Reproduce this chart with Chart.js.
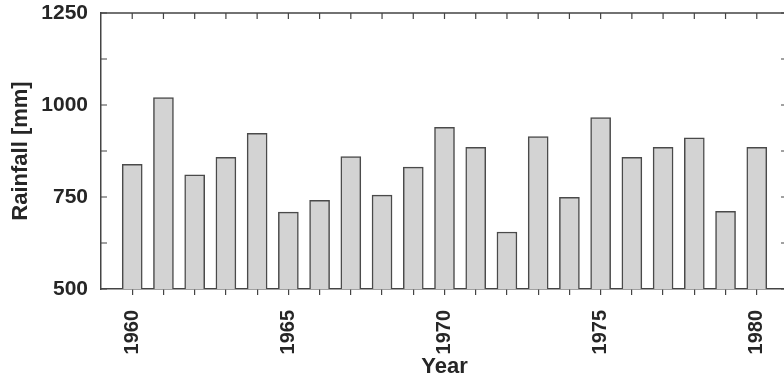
<!DOCTYPE html>
<html>
<head>
<meta charset="utf-8">
<title>Rainfall</title>
<script src="https://cdn.jsdelivr.net/npm/chart.js@4.4.1/dist/chart.umd.min.js"></script>
<style>
  html, body { margin: 0; padding: 0; background: #ffffff; overflow: hidden; }
  #rain-chart { display: block; }
</style>
</head>
<body>
<canvas id="rain-chart" width="800" height="382"></canvas>
<script>
// Years and annual rainfall (mm)
const years = [1960, 1961, 1962, 1963, 1964, 1965, 1966, 1967, 1968, 1969, 1970,
  1971, 1972, 1973, 1974, 1975, 1976, 1977, 1978, 1979, 1980];
const rainfall = [839, 1020, 810, 858, 923, 709, 741, 860, 755, 831, 939,
  885, 655, 914, 749, 966, 858, 885, 911, 711, 885];

// Axis ranges and labelled ticks
const yearMin = 1959;
const yearMax = 1981;
const yearLabels = [1960, 1965, 1970, 1975, 1980];
const rainMin = 500;
const rainMax = 1250;
const rainStep = 125;
const rainLabels = [500, 750, 1000, 1250];

const axisColor = "#444";
const textColor = "#262626";
const fontName = "'Liberation Sans', Arial, sans-serif";

// Inward ticks on left, right and top, plus the top and right frame lines
const frameTicks = {
  id: "frameTicks",
  afterDraw(chart) {
    const ctx = chart.ctx;
    const area = chart.chartArea;
    const x = chart.scales.x;
    const y = chart.scales.y;
    ctx.save();
    ctx.strokeStyle = axisColor;
    ctx.lineWidth = 1.5;
    ctx.beginPath();
    ctx.moveTo(area.left, area.top);
    ctx.lineTo(area.right, area.top);
    ctx.lineTo(area.right, area.bottom);
    ctx.stroke();

    ctx.lineWidth = 1.2;
    ctx.beginPath();
    y.ticks.forEach((t) => {
      const py = y.getPixelForValue(t.value);
      ctx.moveTo(area.left, py);
      ctx.lineTo(area.left + 6, py);
      ctx.moveTo(area.right, py);
      ctx.lineTo(area.right - 7, py);
    });
    years.forEach((yr) => {
      const px = x.getPixelForValue(yr);
      ctx.moveTo(px, area.top);
      ctx.lineTo(px, area.top + 6);
    });
    ctx.stroke();
    ctx.restore();
  },
};

const ctx = document.getElementById("rain-chart").getContext("2d");
const chart = new Chart(ctx, {
  type: "bar",
  data: {
    datasets: [
      {
        label: "Rainfall",
        data: years.map((yr, i) => ({ x: yr, y: rainfall[i] })),
        backgroundColor: "#d3d3d3",
        borderColor: "#4a4a4a",
        borderWidth: 1.5,
        barThickness: 20,
      },
    ],
  },
  options: {
    responsive: false,
    animation: false,
    layout: { padding: { top: 13, right: 12, left: 0, bottom: 0 } },
    plugins: {
      legend: { display: false },
      tooltip: { enabled: false },
    },
    scales: {
      x: {
        type: "linear",
        min: yearMin,
        max: yearMax,
        offset: false,
        afterFit: (scale) => {
          scale.height = 93;
          scale.paddingLeft = 0;
          scale.paddingRight = 0;
        },
        grid: {
          offset: false,
          drawOnChartArea: false,
          tickLength: 6,
          lineWidth: 1.2,
          color: (c) => (c.tick && (c.tick.value === yearMin || c.tick.value === yearMax) ? "rgba(0,0,0,0)" : axisColor),
        },
        border: { display: true, color: axisColor, width: 1.5 },
        ticks: {
          stepSize: 1,
          autoSkip: false,
          minRotation: 90,
          maxRotation: 90,
          padding: 15,
          color: textColor,
          font: { family: fontName, size: 20, weight: "bold" },
          callback: (v) => (yearLabels.includes(Math.round(v)) ? String(Math.round(v)) : ""),
        },
        title: {
          display: true,
          text: "Year",
          color: textColor,
          font: { family: fontName, size: 22, weight: "bold" },
          padding: { top: 0, bottom: 2 },
        },
      },
      y: {
        min: rainMin,
        max: rainMax,
        afterFit: (scale) => {
          scale.width = 101;
          scale.paddingTop = 0;
          scale.paddingBottom = 0;
        },
        grid: { display: false, drawTicks: false },
        border: { display: true, color: axisColor, width: 1.5 },
        ticks: {
          stepSize: rainStep,
          autoSkip: false,
          padding: 13,
          color: textColor,
          font: { family: fontName, size: 21, weight: "bold" },
          callback: (v) => (rainLabels.includes(v) ? String(v) : ""),
        },
        title: {
          display: true,
          text: "Rainfall [mm]",
          color: textColor,
          font: { family: fontName, size: 22, weight: "bold" },
          padding: { top: 8, bottom: 0 },
        },
      },
    },
  },
  plugins: [frameTicks],
});
</script>
</body>
</html>
